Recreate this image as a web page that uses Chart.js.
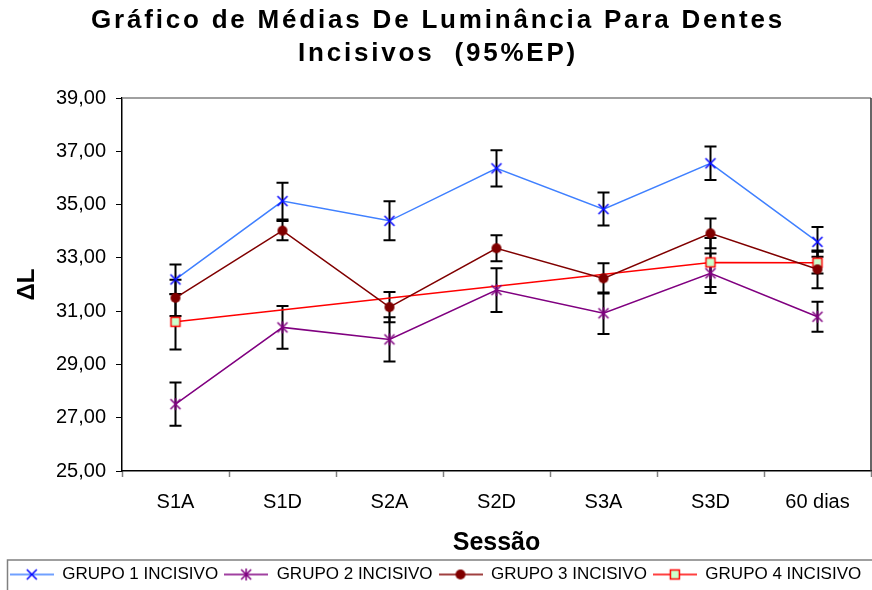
<!DOCTYPE html>
<html>
<head>
<meta charset="utf-8">
<script src="https://cdn.jsdelivr.net/npm/chart.js@4/dist/chart.umd.min.js"></script>
<style>
  body { margin: 0; background: #fff; }
</style>
</head>
<body>
<canvas id="luminanciaChart" width="872" height="590"></canvas>
<script>
const sessoes = ['S1A', 'S1D', 'S2A', 'S2D', 'S3A', 'S3D', '60 dias'];

const grupo1 = [32.19, 35.13, 34.39, 36.36, 34.83, 36.55, 33.60];
const grupo1Erro = [0.56, 0.69, 0.73, 0.68, 0.62, 0.63, 0.56];

const grupo2 = [27.51, 30.39, 29.94, 31.79, 30.92, 32.42, 30.79];
const grupo2Erro = [0.81, 0.80, 0.83, 0.82, 0.78, 0.74, 0.56];

const grupo3 = [31.50, 34.02, 31.15, 33.36, 32.23, 33.92, 32.57];
const grupo3Erro = [0.68, 0.36, 0.57, 0.49, 0.57, 0.56, 0.71];

// grupo 4 only measured at S1A, S3D and 60 dias
const grupo4 = [30.60, null, null, null, null, 32.83, 32.82];
const grupo4Erro = [1.04, null, null, null, null, 0.92, 0.41];

const yTicks = [25, 27, 29, 31, 33, 35, 37, 39];

const FONT = '"Liberation Sans", Arial, sans-serif';

// marker drawings, reused for the lines and the legend samples
function drawMarker(c, kind, x, y) {
    c.save();
    c.lineWidth = 1.5;
    if (kind === 'x') {
        c.strokeStyle = '#0000FF';
        c.beginPath();
        c.moveTo(x - 5, y - 5); c.lineTo(x + 5, y + 5);
        c.moveTo(x + 5, y - 5); c.lineTo(x - 5, y + 5);
        c.stroke();
    } else if (kind === 'star') {
        c.strokeStyle = '#800080';
        c.beginPath();
        c.moveTo(x - 5, y - 5); c.lineTo(x + 5, y + 5);
        c.moveTo(x + 5, y - 5); c.lineTo(x - 5, y + 5);
        c.moveTo(x, y - 6); c.lineTo(x, y + 6);
        c.stroke();
    } else if (kind === 'circle') {
        c.fillStyle = '#800000';
        c.beginPath();
        c.arc(x, y, 5, 0, Math.PI * 2);
        c.fill();
    } else if (kind === 'square') {
        c.fillStyle = '#CCFFCC';
        c.strokeStyle = '#FF0000';
        c.fillRect(x - 4.5, y - 4.5, 9, 9);
        c.strokeRect(x - 4.5, y - 4.5, 9, 9);
    }
    c.restore();
}

function markerImage(kind) {
    const cv = document.createElement('canvas');
    cv.width = 14; cv.height = 14;
    drawMarker(cv.getContext('2d'), kind, 7, 7);
    return cv;
}

function legendImage(kind, color) {
    const cv = document.createElement('canvas');
    cv.width = 44; cv.height = 14;
    const c = cv.getContext('2d');
    c.strokeStyle = color;
    c.lineWidth = 1.5;
    c.beginPath();
    c.moveTo(0, 7); c.lineTo(44, 7);
    c.stroke();
    drawMarker(c, kind, 22, 7);
    return cv;
}

const series = [
    { label: 'GRUPO 1 INCISIVO', data: grupo1, erro: grupo1Erro, color: '#4080FF', marker: 'x' },
    { label: 'GRUPO 2 INCISIVO', data: grupo2, erro: grupo2Erro, color: '#800080', marker: 'star' },
    { label: 'GRUPO 3 INCISIVO', data: grupo3, erro: grupo3Erro, color: '#800000', marker: 'circle' },
    { label: 'GRUPO 4 INCISIVO', data: grupo4, erro: grupo4Erro, color: '#FF0000', marker: 'square' }
];

// error bars (95% EP) drawn under the lines
const errorBars = {
    id: 'errorBars',
    beforeDatasetsDraw(chart) {
        const ctx = chart.ctx;
        const x = chart.scales.x, y = chart.scales.y;
        ctx.save();
        ctx.strokeStyle = '#000';
        ctx.lineWidth = 2;
        series.forEach(s => {
            s.data.forEach((v, i) => {
                if (v === null) return;
                const px = x.getPixelForValue(i);
                const top = y.getPixelForValue(v + s.erro[i]);
                const bot = y.getPixelForValue(v - s.erro[i]);
                ctx.beginPath();
                ctx.moveTo(px, top); ctx.lineTo(px, bot);
                ctx.moveTo(px - 6, top); ctx.lineTo(px + 6, top);
                ctx.moveTo(px - 6, bot); ctx.lineTo(px + 6, bot);
                ctx.stroke();
            });
        });
        ctx.restore();
    }
};

// plot frame, spaced-out main title and legend box
const frame = {
    id: 'frame',
    beforeDatasetsDraw(chart) {
        const a = chart.chartArea;
        const ctx = chart.ctx;
        ctx.save();
        ctx.lineWidth = 1.5;
        ctx.strokeStyle = '#808080';
        ctx.beginPath();
        ctx.moveTo(a.left, a.top); ctx.lineTo(a.right, a.top);
        ctx.stroke();
        ctx.strokeStyle = '#333';
        ctx.beginPath();
        ctx.moveTo(a.right, a.top); ctx.lineTo(a.right, a.bottom);
        ctx.stroke();
        ctx.restore();
    },
    afterDraw(chart) {
        const ctx = chart.ctx;
        ctx.save();
        ctx.fillStyle = '#000';
        ctx.font = 'bold 26px ' + FONT;
        ctx.letterSpacing = '2.8px';
        ctx.textAlign = 'center';
        ctx.textBaseline = 'alphabetic';
        ctx.fillText('Gráfico de Médias De Luminância Para Dentes', 438, 28);
        ctx.fillText('Incisivos  (95%EP)', 438, 61);
        ctx.restore();

        const lg = chart.legend;
        ctx.save();
        ctx.strokeStyle = '#808080';
        ctx.lineWidth = 1.5;
        ctx.strokeRect(7.5, lg.top, 880, 50);
        ctx.restore();
    }
};

const ctx = document.getElementById('luminanciaChart').getContext('2d');
const luminanciaChart = new Chart(ctx, {
    type: 'line',
    data: {
        labels: sessoes,
        datasets: series.map(s => ({
            label: s.label,
            data: s.data,
            borderColor: s.color,
            borderWidth: 1.5,
            pointStyle: markerImage(s.marker),
            spanGaps: true,
            tension: 0
        }))
    },
    plugins: [errorBars, frame],
    options: {
        responsive: false,
        animation: false,
        layout: { autoPadding: false, padding: { top: 98, right: 1, left: 0, bottom: -3 } },
        scales: {
            x: {
                offset: true,
                grid: {
                    offset: true,
                    drawOnChartArea: false,
                    tickLength: 6,
                    tickColor: '#808080',
                    tickWidth: 1.5
                },
                border: { color: '#000', width: 1.5 },
                ticks: { color: '#000', font: { family: FONT, size: 20 }, padding: 13, maxRotation: 0 },
                title: {
                    display: true,
                    text: 'Sessão',
                    color: '#000',
                    font: { family: FONT, size: 25, weight: 'bold' },
                    padding: { top: 0, bottom: 2 }
                },
                afterFit: scale => {
                    scale.height = 89;
                    scale.paddingLeft = 0;
                    scale.paddingRight = 0;
                }
            },
            y: {
                min: 25,
                max: 39,
                afterBuildTicks: scale => { scale.ticks = yTicks.map(v => ({ value: v })); },
                grid: {
                    drawOnChartArea: false,
                    tickLength: 6,
                    tickColor: '#000'
                },
                border: { color: '#000', width: 1.5 },
                ticks: {
                    color: '#000',
                    font: { family: FONT, size: 20 },
                    padding: 10,
                    callback: v => v.toFixed(2).replace('.', ',')
                },
                title: {
                    display: true,
                    text: 'ΔL',
                    color: '#000',
                    font: { family: FONT, size: 24, weight: 'bold' },
                    padding: { top: 13, bottom: 0 }
                },
                afterFit: scale => {
                    scale.width = 122;
                    scale.paddingTop = 0;
                    scale.paddingBottom = 0;
                }
            }
        },
        plugins: {
            tooltip: { enabled: false },
            legend: {
                display: true,
                position: 'bottom',
                labels: {
                    usePointStyle: true,
                    pointStyleWidth: 44,
                    padding: 6,
                    color: '#000',
                    font: { family: FONT, size: 17 },
                    generateLabels: chart => {
                        const items = Chart.defaults.plugins.legend.labels.generateLabels(chart);
                        items.forEach((it, i) => {
                            it.pointStyle = legendImage(series[i].marker, series[i].color);
                        });
                        return items;
                    }
                }
            }
        }
    }
});
</script>
</body>
</html>
